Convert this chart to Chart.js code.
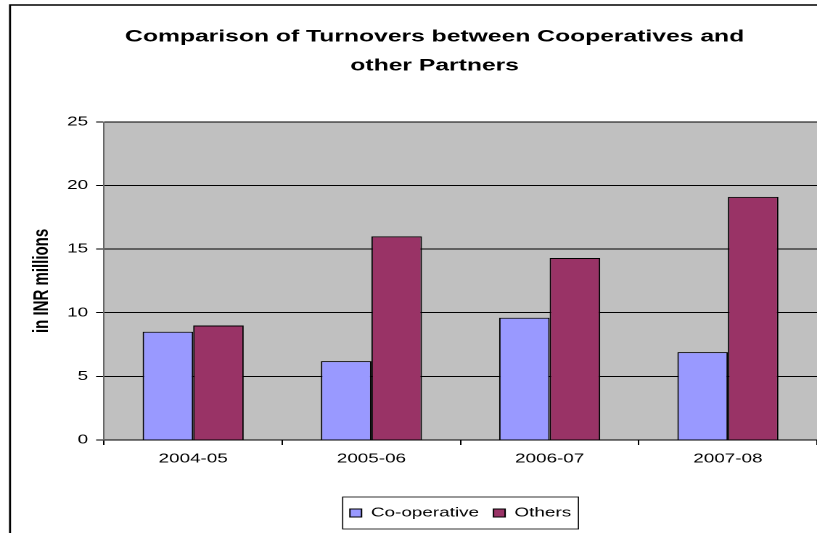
<!DOCTYPE html>
<html>
<head>
<meta charset="utf-8">
<script src="https://cdn.jsdelivr.net/npm/chart.js@4.4.1/dist/chart.umd.min.js"></script>
<style>
  html, body { margin: 0; padding: 0; background: #fff; overflow: hidden; }
  #c { display: block; width: 817px; height: 533px; }
</style>
</head>
<body>
<canvas id="c" width="563" height="533" style="width:817px;height:533px"></canvas>
<script>
const categories = ['2004-05', '2005-06', '2006-07', '2007-08'];
const cooperative = [8.5, 6.2, 9.6, 6.9];
const others = [9.0, 16.0, 14.3, 19.1];
const yTicks = [0, 5, 10, 15, 20, 25];

const FONT = "'Liberation Sans', Arial, sans-serif";

const plotBg = {
  id: 'plotBg',
  beforeDraw(chart) {
    const {ctx, chartArea: a} = chart;
    ctx.save();
    ctx.fillStyle = '#ffffff';
    ctx.fillRect(0, 0, chart.width, chart.height);
    ctx.fillStyle = '#c0c0c0';
    ctx.fillRect(a.left, a.top, a.right - a.left, a.bottom - a.top);
    ctx.restore();
  },
  afterDraw(chart) {
    const {ctx} = chart;
    ctx.save();
    ctx.strokeStyle = '#000';
    ctx.lineWidth = 1.4;
    ctx.beginPath();
    ctx.moveTo(6.9, chart.height + 2);
    ctx.lineTo(6.9, 5);
    ctx.lineTo(chart.width + 2, 5);
    ctx.stroke();
    const lg = chart.legend;
    if (lg && lg.legendHitBoxes && lg.legendHitBoxes.length) {
      const hb = lg.legendHitBoxes;
      let l = Infinity, r = -Infinity, t = Infinity;
      hb.forEach(h => { l = Math.min(l, h.left); r = Math.max(r, h.left + h.width); t = Math.min(t, h.top); });
      const cy = t + hb[0].height / 2;
      ctx.strokeStyle = '#000';
      ctx.lineWidth = 0.8;
      ctx.strokeRect(l - 5, cy - 16, (r - l) + 10, 32);
    }
    ctx.restore();
  },
  afterLayout(chart) {
    const t = chart.titleBlock;
    if (t) { t.left += 18; t.right += 18; }
  }
};

new Chart(document.getElementById('c'), {
  type: 'bar',
  data: {
    labels: categories,
    datasets: [
      { label: 'Co-operative', data: cooperative, backgroundColor: '#9999ff', borderColor: '#000', borderWidth: 1 },
      { label: 'Others', data: others, backgroundColor: '#993366', borderColor: '#000', borderWidth: 1 }
    ]
  },
  options: {
    responsive: false,
    animation: false,
    devicePixelRatio: 2,
    layout: { padding: { top: 0, left: 0, right: 0, bottom: 3.5 } },
    datasets: { bar: { categoryPercentage: 0.567, barPercentage: 1.0 } },
    plugins: {
      title: {
        display: true,
        text: ['Comparison of Turnovers between Cooperatives and', 'other Partners'],
        color: '#000',
        font: { family: FONT, size: 17, weight: 'bold', lineHeight: 1.7 },
        padding: { top: 22.5, bottom: 41.5 }
      },
      legend: {
        display: true,
        position: 'bottom',
        fullSize: false,
        labels: {
          color: '#000',
          font: { family: FONT, size: 13 },
          boxWidth: 8,
          boxHeight: 8,
          padding: 10
        }
      },
      tooltip: { enabled: false }
    },
    scales: {
      x: {
        grid: { display: true, offset: true, drawOnChartArea: false, drawTicks: true, tickLength: 5, color: '#000' },
        border: { display: true, color: '#000', width: 1 },
        ticks: { color: '#000', font: { family: FONT, size: 13 }, padding: 6, maxRotation: 0 },
        afterFit(scale) { scale.height = 56.5; }
      },
      y: {
        min: 0,
        max: 25,
        afterBuildTicks(scale) { scale.ticks = yTicks.map(v => ({ value: v })); },
        grid: { color: '#000', lineWidth: 1, tickLength: 5.5, drawTicks: true },
        border: { display: true, color: '#666', width: 1 },
        ticks: { color: '#000', font: { family: FONT, size: 13 }, padding: 5.5 },
        title: {
          display: true,
          text: 'in INR millions',
          color: '#000',
          font: { family: FONT, size: 15, weight: 'bold' },
          padding: { top: 20, bottom: 0 }
        },
        afterFit(scale) { scale.width = 71.7; }
      }
    }
  },
  plugins: [plotBg]
});
</script>
</body>
</html>
